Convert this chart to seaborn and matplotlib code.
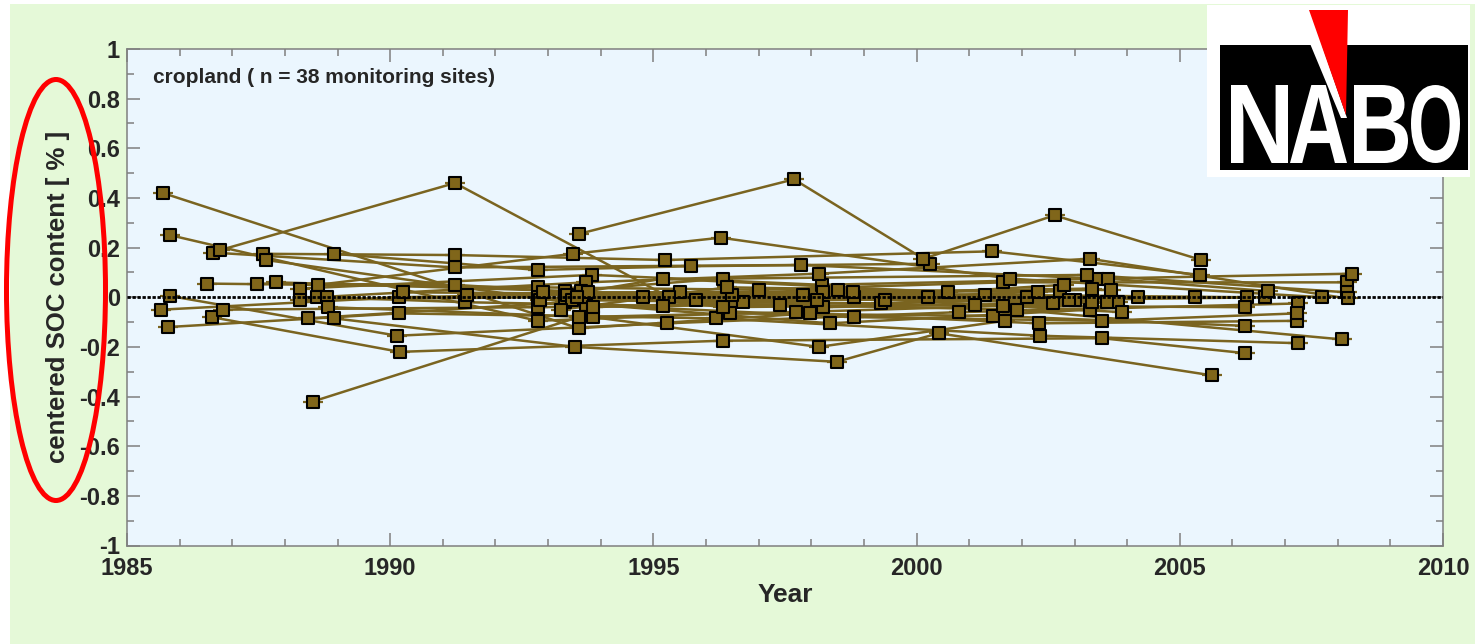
import numpy as np
import pandas as pd
import matplotlib
matplotlib.use("Agg")
import matplotlib.pyplot as plt
import seaborn as sns
from matplotlib.patches import Rectangle, Ellipse, Polygon, PathPatch
from matplotlib.textpath import TextPath
from matplotlib.font_manager import FontProperties
from matplotlib.transforms import Affine2D
from matplotlib.ticker import MultipleLocator, FuncFormatter

nan = np.nan

# --- data: one entry per monitoring site (38 sites), up to 5 samplings each ---
year_1 = [1985.68, 1985.82, 1985.82, 1985.65, 1985.78, 1986.52, 1986.61, 1986.63, 1986.77, 1986.82,
          1987.58, 1987.64, 1987.47, 1987.83, 1988.29, 1988.29, 1988.63, 1988.61, 1988.44, 1988.80,
          1988.82, 1988.93, 1988.93, 1988.53, 1993.58, 1993.62, 1994.80, 1993.35, 1993.45, 1990.25,
          1993.65, 1992.85, 1991.45, 1993.75, 1993.25, 1993.85, 1992.90, 1993.55]
soc_1 = [0.42, 0.25, 0.005, -0.05, -0.12, 0.055, -0.08, 0.18, 0.19, -0.05,
         0.175, 0.15, 0.055, 0.06, 0.035, -0.01, 0.05, 0.0, -0.085, 0.0,
         -0.04, 0.175, -0.085, -0.42, 0.255, 0.025, 0.0, 0.01, -0.01, 0.02,
         0.0, -0.01, 0.01, 0.02, -0.05, -0.04, 0.02, 0.0]

year_2 = [1993.58, 1992.80, 1990.13, 1990.17, 1990.17, 1992.80, 1990.18, 1991.23, 1991.23, 1992.80,
          1991.23, 1993.72, 1991.23, 1993.32, 1993.83, 1992.80, 1993.47, 1993.72, 1993.32, 1991.42,
          1993.85, 1992.80, 1993.51, 1993.58, 1997.67, 1996.32, 1998.81, 1995.18, 1998.22, 1996.50,
          1998.22, 1999.32, 1997.85, 1998.80, 1996.40, 1998.10, 1999.40, 1998.50]
soc_2 = [-0.125, -0.095, -0.155, 0.0, -0.065, 0.04, -0.22, 0.12, 0.46, -0.04,
         0.17, -0.03, 0.05, 0.025, 0.09, 0.0, 0.175, 0.06, -0.02, -0.02,
         -0.08, 0.11, -0.2, -0.08, 0.475, -0.04, 0.0, 0.075, 0.02, 0.01,
         -0.04, -0.025, 0.01, 0.02, 0.04, -0.01, -0.01, 0.03]

year_3 = [1997.97, 1996.45, 1995.25, 1995.50, 1996.18, 1997.00, 1996.32, 1997.80, 1995.30, 1997.40,
          1995.22, 1998.81, 1995.80, 1996.32, 1998.20, 1996.70, 1996.28, 1998.14, 1998.35, 1995.18,
          1998.14, 1995.71, 1998.48, 1997.70, 2000.13, 2001.10, 2003.34, 2000.60, 2003.34, 2002.10,
          2003.61, 2004.20, 2002.60, 2003.70, 2002.30, 2002.80, 2003.90, 2002.90]
soc_3 = [-0.065, -0.065, -0.105, 0.02, -0.085, 0.03, -0.175, 0.13, 0.0, -0.03,
         0.15, -0.08, -0.01, 0.075, 0.05, -0.02, 0.24, 0.095, -0.105, -0.035,
         -0.2, 0.125, -0.26, -0.06, 0.155, -0.03, -0.02, 0.02, 0.035, 0.0,
         -0.02, 0.0, -0.025, 0.03, 0.02, 0.05, -0.06, -0.01]

year_4 = [2002.32, 2001.45, 2000.80, 2001.30, 2002.34, 2001.64, 2003.52, 2003.44, 2000.21, 2001.90,
          2001.43, 2003.53, 2003.00, 2003.23, 2003.63, 2001.64, 2001.77, 2003.29, 2003.30, 2002.72,
          2001.67, 2000.25, 2000.42, 2003.82, 2002.62, nan, nan, nan, nan, nan,
          nan, nan, nan, nan, nan, nan, nan, nan]
soc_4 = [-0.105, -0.075, -0.06, 0.01, -0.155, 0.06, -0.165, 0.075, 0.0, -0.05,
         0.185, -0.095, -0.01, 0.09, 0.075, -0.035, 0.075, 0.155, -0.05, 0.025,
         -0.095, 0.135, -0.145, -0.02, 0.33, nan, nan, nan, nan, nan,
         nan, nan, nan, nan, nan, nan, nan, nan]

year_5 = [2007.22, 2006.23, 2007.24, 2006.27, 2007.24, 2008.17, 2006.23, 2008.28, 2005.28, 2008.09,
          2005.38, 2007.22, 2006.61, 2008.17, 2006.67, 2006.23, 2007.71, 2008.19, nan, nan,
          nan, nan, 2005.62, nan, 2005.41, nan, nan, nan, nan, nan,
          nan, nan, nan, nan, nan, nan, nan, nan]
soc_5 = [-0.095, -0.115, -0.025, 0.0, -0.185, 0.06, -0.225, 0.095, 0.0, -0.17,
         0.09, -0.065, 0.0, 0.02, 0.025, -0.04, 0.0, -0.005, nan, nan,
         nan, nan, -0.315, nan, 0.15, nan, nan, nan, nan, nan,
         nan, nan, nan, nan, nan, nan, nan, nan]

x_ticks = [1985, 1990, 1995, 2000, 2005, 2010]
y_ticks = [-1, -0.8, -0.6, -0.4, -0.2, 0, 0.2, 0.4, 0.6, 0.8, 1]

# --- tidy table ---
frames = []
for k, (yy, vv) in enumerate([(year_1, soc_1), (year_2, soc_2), (year_3, soc_3),
                              (year_4, soc_4), (year_5, soc_5)]):
    frames.append(pd.DataFrame({"site": range(len(yy)), "sample": k, "year": yy, "soc": vv}))
df = pd.concat(frames).dropna().sort_values(["site", "year"]).reset_index(drop=True)

# --- style ---
sns.set_style("ticks")
plt.rcParams["font.family"] = ["Liberation Sans", "DejaVu Sans"]
plt.rcParams["axes.unicode_minus"] = False

W, H = 1475, 644
fig = plt.figure(figsize=(W / 100, H / 100), dpi=100)
fig.patch.set_facecolor("white")
fig.add_artist(Rectangle((10 / W, 0), 1 - 10 / W, 1 - 4 / H, transform=fig.transFigure,
                         facecolor="#E5F9D8", edgecolor="none", zorder=-5))

ax = fig.add_axes([127 / W, 1 - 545.5 / H, 1316 / W, 496.5 / H])
ax.set_facecolor("#EBF6FE")

line_col = "#7A6420"
fill_col = "#80661A"

sns.lineplot(data=df, x="year", y="soc", units="site", estimator=None, color=line_col,
             lw=1.8, ax=ax, legend=False, zorder=2)
sns.scatterplot(data=df, x="year", y="soc", marker="_", s=200, color=line_col,
                linewidth=1.6, ax=ax, legend=False, zorder=2.5)
sns.scatterplot(data=df, x="year", y="soc", marker="s", s=72, color=fill_col,
                edgecolor="black", linewidth=1.5, ax=ax, legend=False, zorder=3)
ax.axhline(0, color="black", lw=2.0, ls=(0, (1.2, 0.6)), zorder=4)

ax.set_xlim(1985, 2010)
ax.set_ylim(-1, 1)
ax.set_xticks(x_ticks)
ax.set_yticks(y_ticks)
ax.xaxis.set_minor_locator(MultipleLocator(1))
ax.yaxis.set_minor_locator(MultipleLocator(0.1))
ax.yaxis.set_major_formatter(FuncFormatter(lambda v, p: f"{round(v, 1) + 0:g}"))
ax.tick_params(which="both", direction="in", top=True, right=True, color="#7f7f7f",
               width=1.1, labelsize=17)
ax.tick_params(which="major", length=9.4)
ax.tick_params(which="minor", length=4.8)
ax.tick_params(axis="x", which="major", pad=8)
ax.tick_params(axis="y", which="major", pad=5)
for lab in ax.get_xticklabels() + ax.get_yticklabels():
    lab.set_fontweight("bold")
for sp in ax.spines.values():
    sp.set_color("#7f7f7f")
    sp.set_linewidth(1.1)

ax.set_xlabel("Year", fontsize=19, fontweight="bold")
ax.set_ylabel("centered SOC content [ % ]", fontsize=18.5, fontweight="bold")
ax.xaxis.set_label_coords(0.5, -0.075)
ax.xaxis.label.set_va("top")
ax.yaxis.set_label_coords(-0.043, 0.5)

ax.text(1985.49, 0.864, "cropland ( n = 38 monitoring sites)", fontsize=15,
        fontweight="bold", va="baseline", ha="left")

# --- red highlight around the y label ---
fig.add_artist(Ellipse((56 / W, 1 - 290 / H), 99 / W, 421 / H, transform=fig.transFigure,
                       fill=False, edgecolor="#FF0000", lw=3.6, zorder=10))

# --- NABO logo (pixel-like coordinates inside its own axes) ---
lg = fig.add_axes([1207 / W, 1 - 177 / H, 263 / W, 172 / H])
lg.set_xlim(1207, 1470)
lg.set_ylim(177, 5)
lg.set_facecolor("white")
for sp in lg.spines.values():
    sp.set_visible(False)
lg.set_xticks([])
lg.set_yticks([])
lg.add_patch(Rectangle((1220, 45), 248, 125, facecolor="black", edgecolor="none"))

fp = FontProperties(family="Liberation Sans", weight="bold")
letter_boxes = [("N", 1231, 1288), ("A", 1290, 1347), ("B", 1354, 1408), ("O", 1411, 1460)]
for ch, x0, x1 in letter_boxes:
    tp = TextPath((0, 0), ch, size=1, prop=fp)
    ext = tp.get_extents()
    tr = (Affine2D().translate(-ext.x0, -ext.y0)
          .scale((x1 - x0) / ext.width, -(163 - 85) / ext.height)
          .translate(x0, 163))
    lg.add_patch(PathPatch(tr.transform_path(tp), facecolor="white", edgecolor="none"))
lg.add_patch(Polygon([(1296, 10), (1310, 10), (1347, 118), (1341, 118)], closed=True,
                     facecolor="white", edgecolor="none"))
lg.add_patch(Polygon([(1309, 10), (1348, 10), (1346, 115)], closed=True,
                     facecolor="#FF0000", edgecolor="none"))

fig.savefig("out.png", dpi=100, facecolor=fig.get_facecolor())
